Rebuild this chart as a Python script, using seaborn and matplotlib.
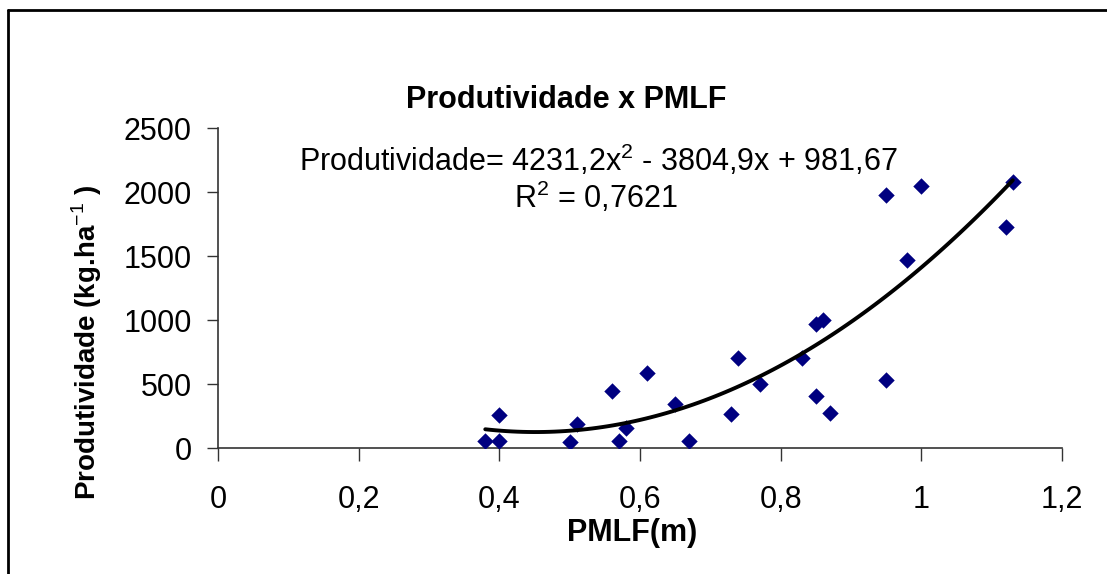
import matplotlib
matplotlib.use("Agg")
import matplotlib.pyplot as plt
from matplotlib.lines import Line2D
import seaborn as sns
import pandas as pd

pmlf = [0.38, 0.40, 0.40, 0.50, 0.51, 0.56, 0.57, 0.58, 0.61, 0.65, 0.67, 0.73,
        0.74, 0.77, 0.83, 0.85, 0.85, 0.86, 0.87, 0.95, 0.95, 0.98, 1.00, 1.12, 1.13]
produtividade = [55, 55, 255, 50, 185, 445, 55, 160, 585, 340, 55, 265,
                 700, 500, 700, 405, 970, 1000, 270, 1975, 535, 1470, 2045, 1730, 2080]
x_ticks = [0, 0.2, 0.4, 0.6, 0.8, 1.0, 1.2]
x_tick_labels = ["0", "0,2", "0,4", "0,6", "0,8", "1", "1,2"]
y_ticks = [0, 500, 1000, 1500, 2000, 2500]
title = "Produtividade x PMLF"
equation = "Produtividade= 4231,2x$^{2}$ - 3804,9x + 981,67"
r2_text = "R$^{2}$ = 0,7621"

df = pd.DataFrame({"PMLF": pmlf, "Produtividade": produtividade})

sns.set_style("white")
plt.rcParams["font.family"] = ["Liberation Sans", "DejaVu Sans"]
plt.rcParams["mathtext.fontset"] = "custom"
plt.rcParams["mathtext.rm"] = "Liberation Sans"
plt.rcParams["mathtext.bf"] = "Liberation Sans:bold"
plt.rcParams["text.color"] = "black"
plt.rcParams["axes.labelcolor"] = "black"

fig = plt.figure(figsize=(11.07, 5.74), dpi=100)
ax = fig.add_axes([218 / 1107, 1 - 448 / 574, (1062 - 218) / 1107, 320 / 574])

sns.regplot(data=df, x="PMLF", y="Produtividade", order=2, ci=None, ax=ax,
            marker="D",
            scatter_kws={"color": "#000080", "s": 70, "alpha": 1, "linewidths": 0, "zorder": 3},
            line_kws={"color": "black", "linewidth": 2.8, "zorder": 4})

ax.set_xlim(0, 1.2)
ax.set_ylim(0, 2500)
ax.set_xticks(x_ticks)
ax.set_xticklabels(x_tick_labels)
ax.set_yticks(y_ticks)
ax.tick_params(axis="x", direction="out", length=9, width=1, colors="#333333",
               labelsize=22, labelcolor="black", pad=18, bottom=True)
ax.tick_params(axis="y", direction="out", length=8, width=1, colors="#333333",
               labelsize=22, labelcolor="black", pad=11, left=True)
for s in ["top", "right"]:
    ax.spines[s].set_visible(False)
for s in ["left", "bottom"]:
    ax.spines[s].set_color("#333333")
    ax.spines[s].set_linewidth(1.2)

ax.set_xlabel("PMLF(m)", fontsize=22, fontweight="bold", va="center", ha="center")
ax.xaxis.set_label_coords((632 - 218) / 844, (448 - 533) / 320)
ax.set_ylabel("Produtividade (kg.ha$^{-1}$ )", fontsize=20, fontweight="bold",
              va="center", ha="center")
ax.yaxis.set_label_coords((87 - 218) / 844, (448 - 342) / 320)
fig.text(566 / 1107, 1 - 100 / 574, title, fontsize=22, fontweight="bold",
         ha="center", va="center")

ax.text(0.450, 0.90, equation, transform=ax.transAxes,
        ha="center", va="center", fontsize=22)
ax.text(0.448, 0.784, r2_text, transform=ax.transAxes,
        ha="center", va="center", fontsize=22)

fig.add_artist(Line2D([8 / 1107, 8 / 1107], [0, 1 - 10 / 574], color="black",
                      linewidth=2, transform=fig.transFigure))
fig.add_artist(Line2D([8 / 1107, 1], [1 - 10 / 574, 1 - 10 / 574], color="black",
                      linewidth=2, transform=fig.transFigure))

fig.savefig("out.png", dpi=100)
